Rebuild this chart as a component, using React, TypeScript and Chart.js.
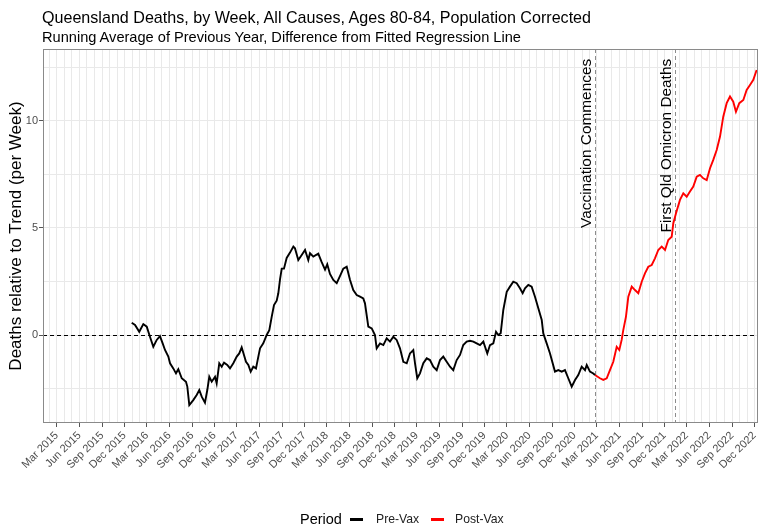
import React, { useEffect, useRef } from 'react';
import { Chart, registerables } from 'chart.js';

Chart.register(...registerables);

const FONT = '"Liberation Sans", Arial, Helvetica, sans-serif';

// Weekly running-average series, x as decimal year
const preVaxWeeks = [
  2015.995, 2016.032, 2016.079, 2016.124, 2016.162, 2016.198, 2016.235, 2016.273, 2016.309, 2016.339,
  2016.365, 2016.402, 2016.421, 2016.457, 2016.487, 2016.513, 2016.551, 2016.598, 2016.613, 2016.635,
  2016.679, 2016.717, 2016.746, 2016.773, 2016.809, 2016.835, 2016.857, 2016.884, 2016.921, 2016.939,
  2016.968, 2016.995, 2017.021, 2017.057, 2017.087, 2017.124, 2017.162, 2017.190, 2017.217, 2017.235,
  2017.265, 2017.291, 2017.317, 2017.346, 2017.376, 2017.402, 2017.421, 2017.457, 2017.495, 2017.524,
  2017.551, 2017.576, 2017.606, 2017.624, 2017.643, 2017.662, 2017.687, 2017.717, 2017.754, 2017.791,
  2017.809, 2017.846, 2017.884, 2017.921, 2017.957, 2017.976, 2018.013, 2018.068, 2018.106, 2018.143,
  2018.168, 2018.198, 2018.235, 2018.273, 2018.309, 2018.346, 2018.384, 2018.421, 2018.457, 2018.495,
  2018.532, 2018.568, 2018.587, 2018.624, 2018.662, 2018.698, 2018.717, 2018.754, 2018.791, 2018.828,
  2018.865, 2018.902, 2018.939, 2018.976, 2019.013, 2019.051, 2019.087, 2019.124, 2019.143, 2019.168,
  2019.198, 2019.235, 2019.273, 2019.309, 2019.346, 2019.384, 2019.421, 2019.457, 2019.495, 2019.532,
  2019.568, 2019.606, 2019.643, 2019.679, 2019.717, 2019.754, 2019.791, 2019.828, 2019.865, 2019.902,
  2019.921, 2019.946, 2019.976, 2020.013, 2020.043, 2020.068, 2020.095, 2020.124, 2020.162, 2020.198,
  2020.235, 2020.273, 2020.309, 2020.339, 2020.365, 2020.402, 2020.439, 2020.476, 2020.513, 2020.551,
  2020.568, 2020.606, 2020.643, 2020.698, 2020.735, 2020.773, 2020.809, 2020.846, 2020.884, 2020.921,
  2020.957, 2020.995, 2021.032, 2021.051, 2021.087, 2021.124, 2021.143,
];
const preVaxValues = [
  0.57, 0.47, 0.15, 0.51, 0.39, -0.08, -0.55, -0.23, -0.05, -0.39,
  -0.70, -1.01, -1.32, -1.56, -1.79, -1.60, -2.02, -2.18, -2.41, -3.27,
  -3.04, -2.80, -2.57, -2.88, -3.16, -2.57, -1.95, -2.18, -1.95, -2.26,
  -1.32, -1.48, -1.29, -1.40, -1.56, -1.32, -1.01, -0.86, -0.58, -0.83,
  -1.25, -1.40, -1.71, -1.48, -1.56, -1.01, -0.62, -0.39, 0.00, 0.23,
  0.86, 1.40, 1.60, 1.95, 2.60, 3.10, 3.10, 3.60, 3.85, 4.13,
  4.05, 3.50, 3.74, 3.97, 3.50, 3.82, 3.66, 3.80, 3.40, 3.05,
  3.30, 2.85, 2.57, 2.42, 2.75, 3.10, 3.19, 2.57, 2.10, 1.87,
  1.79, 1.71, 1.48, 0.39, 0.31, 0.00, -0.62, -0.39, -0.47, -0.16,
  -0.31, -0.08, -0.23, -0.62, -1.25, -1.32, -0.86, -0.70, -1.32, -2.02,
  -1.79, -1.32, -1.09, -1.17, -1.48, -1.64, -1.17, -1.01, -1.25, -1.48,
  -1.64, -1.17, -0.93, -0.47, -0.31, -0.27, -0.31, -0.39, -0.47, -0.31,
  -0.55, -0.86, -0.47, -0.39, 0.15, 0.00, 0.08, 1.17, 2.02, 2.26,
  2.49, 2.42, 2.18, 1.95, 2.18, 2.34, 2.26, 1.79, 1.25, 0.70,
  0.08, -0.39, -0.86, -1.71, -1.64, -1.71, -1.64, -2.02, -2.41, -2.10,
  -1.87, -1.48, -1.64, -1.40, -1.71, -1.80, -1.87,
];

const postVaxWeeks = [
  2021.143, 2021.198, 2021.235, 2021.273, 2021.309, 2021.346, 2021.384, 2021.413, 2021.439, 2021.457,
  2021.487, 2021.513, 2021.551, 2021.587, 2021.624, 2021.662, 2021.698, 2021.735, 2021.773, 2021.809,
  2021.846, 2021.884, 2021.921, 2021.957, 2021.995, 2022.013, 2022.043, 2022.087, 2022.124, 2022.162,
  2022.198, 2022.235, 2022.273, 2022.309, 2022.346, 2022.384, 2022.421, 2022.457, 2022.495, 2022.532,
  2022.568, 2022.606, 2022.643, 2022.679, 2022.709, 2022.746, 2022.791, 2022.828, 2022.865, 2022.902,
  2022.939,
];
const postVaxValues = [
  -1.87, -2.02, -2.10, -2.02, -1.64, -1.25, -0.55, -0.70, -0.23, 0.23,
  0.86, 1.79, 2.26, 2.10, 1.95, 2.49, 2.88, 3.19, 3.27, 3.58,
  3.97, 4.13, 3.97, 4.44, 4.59, 5.22, 5.69, 6.31, 6.62, 6.46,
  6.70, 6.93, 7.40, 7.48, 7.32, 7.24, 7.79, 8.18, 8.64, 9.27,
  10.20, 10.83, 11.14, 10.90, 10.43, 10.83, 10.98, 11.45, 11.68, 11.92,
  12.38,
];

const xTickLabels = [
  'Mar 2015', 'Jun 2015', 'Sep 2015', 'Dec 2015',
  'Mar 2016', 'Jun 2016', 'Sep 2016', 'Dec 2016',
  'Mar 2017', 'Jun 2017', 'Sep 2017', 'Dec 2017',
  'Mar 2018', 'Jun 2018', 'Sep 2018', 'Dec 2018',
  'Mar 2019', 'Jun 2019', 'Sep 2019', 'Dec 2019',
  'Mar 2020', 'Jun 2020', 'Sep 2020', 'Dec 2020',
  'Mar 2021', 'Jun 2021', 'Sep 2021', 'Dec 2021',
  'Mar 2022', 'Jun 2022', 'Sep 2022', 'Dec 2022',
];
const yTickLabels = [0, 5, 10];
const yGridValues = [-2.5, 0, 2.5, 5, 7.5, 10, 12.5];

const eventDates = [2021.143, 2022.032];
const eventLabels = ['Vaccination Commences', 'First Qld Omicron Deaths'];
const eventLabelY = 12.9;

const X_MIN = 2015.0094;
const X_MAX = 2022.954;
const Y_MIN = -4.11;
const Y_MAX = 13.36;

const MONTHS = ['Jan', 'Feb', 'Mar', 'Apr', 'May', 'Jun', 'Jul', 'Aug', 'Sep', 'Oct', 'Nov', 'Dec'];

function decYear(y: number, m: number): number {
  const a = Date.UTC(y, 0, 1);
  const b = Date.UTC(y + 1, 0, 1);
  return y + (Date.UTC(y, m, 1) - a) / (b - a);
}

const keyOf = (v: number) => Math.round(v * 10000);

const labelMap = new Map<number, string>();
xTickLabels.forEach((lab) => {
  const [mon, yr] = lab.split(' ');
  labelMap.set(keyOf(decYear(parseInt(yr, 10), MONTHS.indexOf(mon))), lab);
});

const monthTicks: number[] = [];
for (let y = 2015; y <= 2022; y++) {
  for (let m = 0; m < 12; m++) {
    const v = decYear(y, m);
    if (v >= X_MIN && v <= X_MAX) monthTicks.push(v);
  }
}

const panelPlugin = {
  id: 'panelExtras',
  beforeDatasetsDraw(chart: any) {
    const { ctx, chartArea: a, scales } = chart;
    const x = scales.x;
    const y = scales.y;
    ctx.save();
    ctx.beginPath();
    ctx.rect(a.left, a.top, a.right - a.left, a.bottom - a.top);
    ctx.clip();
    ctx.lineWidth = 1;
    ctx.setLineDash([4, 3]);
    ctx.strokeStyle = '#000000';
    const y0 = Math.round(y.getPixelForValue(0)) + 0.5;
    ctx.beginPath();
    ctx.moveTo(a.left, y0);
    ctx.lineTo(a.right, y0);
    ctx.stroke();
    ctx.strokeStyle = '#8c8c8c';
    eventDates.forEach((d) => {
      const px = Math.round(x.getPixelForValue(d)) + 0.5;
      ctx.beginPath();
      ctx.moveTo(px, a.top);
      ctx.lineTo(px, a.bottom);
      ctx.stroke();
    });
    ctx.restore();
  },
  afterDatasetsDraw(chart: any) {
    const { ctx, chartArea: a, scales } = chart;
    const x = scales.x;
    const y = scales.y;
    ctx.save();
    ctx.fillStyle = '#000000';
    ctx.font = `15.4px ${FONT}`;
    ctx.textAlign = 'right';
    ctx.textBaseline = 'middle';
    eventDates.forEach((d, i) => {
      const px = x.getPixelForValue(d) - 8;
      const py = y.getPixelForValue(eventLabelY);
      ctx.save();
      ctx.translate(px, py);
      ctx.rotate(-Math.PI / 2);
      ctx.fillText(eventLabels[i], 0, 0);
      ctx.restore();
    });
    ctx.strokeStyle = '#8a8a8a';
    ctx.lineWidth = 1;
    ctx.strokeRect(a.left + 0.5, a.top + 0.5, a.right - a.left - 1, a.bottom - a.top - 1);
    ctx.restore();
  },
};

export default function App() {
  const canvasRef = useRef<HTMLCanvasElement | null>(null);

  useEffect(() => {
    if (!canvasRef.current) return;
    const chart = new Chart(canvasRef.current, {
      type: 'line',
      data: {
        datasets: [
          {
            label: 'Pre-Vax',
            data: preVaxWeeks.map((w, i) => ({ x: w, y: preVaxValues[i] })),
            borderColor: '#000000',
            borderWidth: 1.9,
            pointRadius: 0,
            tension: 0,
            fill: false,
          },
          {
            label: 'Post-Vax',
            data: postVaxWeeks.map((w, i) => ({ x: w, y: postVaxValues[i] })),
            borderColor: '#ff0000',
            borderWidth: 1.9,
            pointRadius: 0,
            tension: 0,
            fill: false,
          },
        ],
      },
      options: {
        responsive: false,
        animation: false,
        devicePixelRatio: 1,
        layout: { padding: { top: 49, right: 2, bottom: 0, left: 0 } },
        plugins: {
          legend: { display: false },
          tooltip: { enabled: false },
          title: { display: false },
        },
        scales: {
          x: {
            type: 'linear',
            min: X_MIN,
            max: X_MAX,
            afterBuildTicks: (s: any) => {
              s.ticks = monthTicks.map((v) => ({ value: v }));
            },
            afterFit: (s: any) => {
              s.height = 104;
              s.paddingLeft = 0;
              s.paddingRight = 0;
            },
            border: { display: false },
            grid: {
              color: '#e9e9e9',
              lineWidth: 1,
              drawTicks: true,
              tickLength: 4,
              tickColor: (c: any) => (c.tick && labelMap.has(keyOf(c.tick.value)) ? '#555555' : 'rgba(0,0,0,0)'),
            },
            ticks: {
              autoSkip: false,
              minRotation: 45,
              maxRotation: 45,
              padding: 2,
              color: '#4d4d4d',
              font: { size: 11, family: FONT },
              callback: (v: any) => labelMap.get(keyOf(Number(v))) ?? '',
            },
          },
          y: {
            type: 'linear',
            min: Y_MIN,
            max: Y_MAX,
            afterBuildTicks: (s: any) => {
              s.ticks = yGridValues.map((v) => ({ value: v }));
            },
            afterFit: (s: any) => {
              s.width = 43;
              s.paddingTop = 0;
              s.paddingBottom = 0;
            },
            border: { display: false },
            grid: {
              color: '#e9e9e9',
              lineWidth: 1,
              tickLength: 4,
              tickColor: (c: any) => (c.tick && yTickLabels.includes(c.tick.value) ? '#555555' : 'rgba(0,0,0,0)'),
            },
            ticks: {
              padding: 1,
              color: '#4d4d4d',
              font: { size: 11, family: FONT },
              callback: (v: any) => (yTickLabels.includes(Number(v)) ? String(v) : ''),
            },
            title: {
              display: true,
              text: 'Deaths relative to Trend (per Week)',
              color: '#000000',
              font: { size: 17, family: FONT },
              padding: { top: 6, bottom: 0 },
            },
          },
        },
      },
      plugins: [panelPlugin],
    } as any);
    return () => chart.destroy();
  }, []);

  const txt = (extra: React.CSSProperties): React.CSSProperties => ({
    position: 'absolute',
    whiteSpace: 'nowrap',
    lineHeight: 1,
    fontFamily: FONT,
    ...extra,
  });

  return (
    <div style={{ position: 'fixed', left: 0, top: 0, width: 760, height: 527, background: '#ffffff', overflow: 'hidden' }}>
      <canvas ref={canvasRef} width={760} height={527} style={{ position: 'absolute', left: 0, top: 0, width: 760, height: 527 }} />
      <div style={txt({ left: 42, top: 9, fontSize: 16.1, color: '#000' })}>
        Queensland Deaths, by Week, All Causes, Ages 80-84, Population Corrected
      </div>
      <div style={txt({ left: 42, top: 30, fontSize: 14.6, color: '#000' })}>
        Running Average of Previous Year, Difference from Fitted Regression Line
      </div>
      <div style={txt({ left: 300, top: 512, fontSize: 14.5, color: '#000' })}>Period</div>
      <div style={{ position: 'absolute', left: 350, top: 518, width: 13, height: 2.5, background: '#000' }} />
      <div style={txt({ left: 376, top: 513, fontSize: 12.2, color: '#222' })}>Pre-Vax</div>
      <div style={{ position: 'absolute', left: 431, top: 518, width: 13, height: 2.5, background: '#ff0000' }} />
      <div style={txt({ left: 455, top: 513, fontSize: 12.2, color: '#222' })}>Post-Vax</div>
    </div>
  );
}
